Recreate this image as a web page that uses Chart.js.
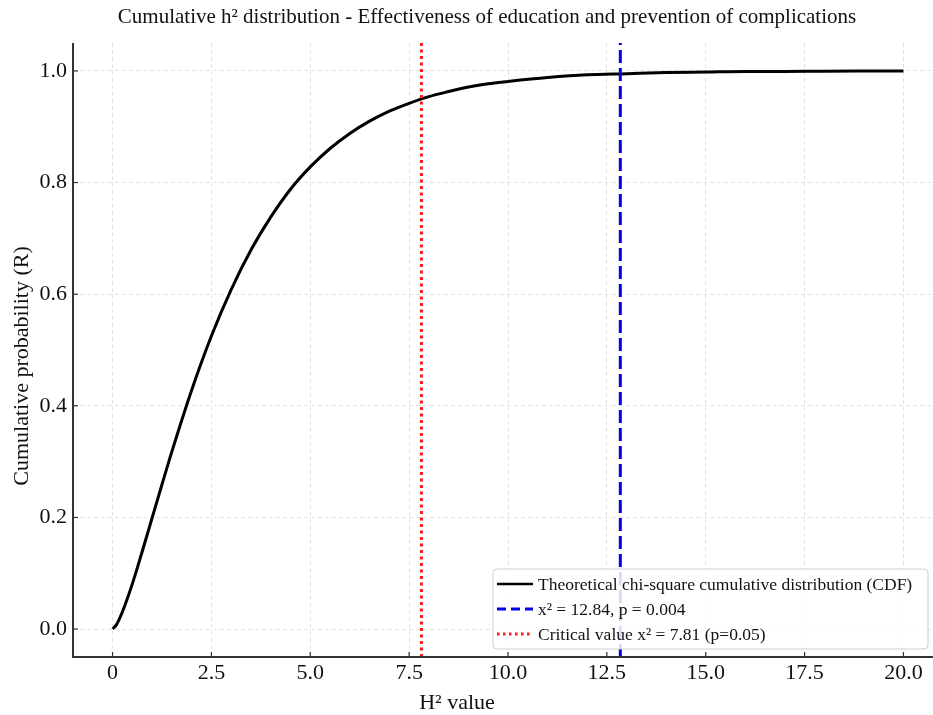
<!DOCTYPE html>
<html>
<head>
<meta charset="utf-8">
<script src="https://cdn.jsdelivr.net/npm/chart.js@4.4.0/dist/chart.umd.min.js"></script>
<style>
  html, body { margin: 0; padding: 0; background: #fff; overflow: hidden; }
  #wrap { width: 945px; height: 715px; }
</style>
</head>
<body>
<div id="wrap"><canvas id="cdfChart" width="945" height="715"></canvas></div>
<script>
// Values
const xValues = [0, 0.1, 0.25, 0.5, 0.75, 1, 1.25, 1.5, 2, 2.5, 3, 3.5, 4, 4.5, 5, 5.5, 6, 6.5, 7, 7.5, 8, 8.5, 9, 9.5, 10, 11, 12, 13, 14, 15, 16, 17, 18, 19, 20];
const cdfValues = [0, 0.008, 0.031, 0.081, 0.139, 0.199, 0.259, 0.318, 0.428, 0.525, 0.608, 0.679, 0.738, 0.788, 0.828, 0.861, 0.888, 0.910, 0.928, 0.942, 0.954, 0.963, 0.971, 0.977, 0.981, 0.988, 0.993, 0.995, 0.997, 0.998, 0.999, 0.999, 0.9995, 0.9997, 0.9998];
const observedChi = 12.84;
const criticalChi = 7.81;
const xTicks = [0, 2.5, 5, 7.5, 10, 12.5, 15, 17.5, 20];
const yTicks = [0, 0.2, 0.4, 0.6, 0.8, 1.0];
const legendLabels = [
    'Theoretical chi-square cumulative distribution (CDF)',
    'x\u00b2 = 12.84, p = 0.004',
    'Critical value x\u00b2 = 7.81 (p=0.05)'
];
const titleText = 'Cumulative h\u00b2 distribution - Effectiveness of education and prevention of complications';
const xTitle = 'H\u00b2 value';
const yTitle = 'Cumulative probability (R)';

const X_MIN = -1, X_MAX = 21, Y_MIN = -0.05, Y_MAX = 1.05;
const FONT = '"Liberation Serif", "Times New Roman", serif';

const curvePoints = xValues.map((x, i) => ({ x: x, y: cdfValues[i] }));

// Extra drawing: spines, inward ticks, titles, legend box
const decorPlugin = {
    id: 'decor',
    afterDatasetsDraw(chart) {
        const ctx = chart.ctx;
        const area = chart.chartArea;
        const xs = chart.scales.x, ys = chart.scales.y;
        ctx.save();

        // spines
        ctx.strokeStyle = '#333';
        ctx.lineWidth = 2;
        ctx.setLineDash([]);
        ctx.beginPath();
        ctx.moveTo(area.left, area.top);
        ctx.lineTo(area.left, area.bottom);
        ctx.lineTo(area.right, area.bottom);
        ctx.stroke();

        // inward tick marks
        ctx.lineWidth = 1.2;
        xTicks.forEach(v => {
            const px = xs.getPixelForValue(v);
            ctx.beginPath();
            ctx.moveTo(px, area.bottom);
            ctx.lineTo(px, area.bottom - 5);
            ctx.stroke();
        });
        yTicks.forEach(v => {
            const py = ys.getPixelForValue(v);
            ctx.beginPath();
            ctx.moveTo(area.left, py);
            ctx.lineTo(area.left + 5, py);
            ctx.stroke();
        });

        // titles
        ctx.fillStyle = '#111';
        ctx.textAlign = 'center';
        ctx.textBaseline = 'middle';
        ctx.font = '21px ' + FONT;
        ctx.fillText(titleText, 487, 17);
        ctx.font = '22px ' + FONT;
        ctx.fillText(xTitle, 457, 703);
        ctx.save();
        ctx.translate(22, 366);
        ctx.rotate(-Math.PI / 2);
        ctx.fillText(yTitle, 0, 0);
        ctx.restore();

        // legend
        const bx = 493, by = 569, bw = 435, bh = 80;
        ctx.fillStyle = 'rgba(255,255,255,0.85)';
        ctx.strokeStyle = '#cfcfcf';
        ctx.lineWidth = 1;
        ctx.beginPath();
        ctx.roundRect(bx, by, bw, bh, 4);
        ctx.fill();
        ctx.stroke();

        const styles = [
            { color: '#000', dash: [], width: 2.5 },
            { color: '#0000ee', dash: [9, 5], width: 3 },
            { color: '#ff1a1a', dash: [2.5, 3.5], width: 3 }
        ];
        const rows = [584, 609, 634];
        ctx.font = '17.5px ' + FONT;
        ctx.textAlign = 'left';
        legendLabels.forEach((label, i) => {
            const s = styles[i];
            ctx.strokeStyle = s.color;
            ctx.lineWidth = s.width;
            ctx.setLineDash(s.dash);
            ctx.beginPath();
            ctx.moveTo(497, rows[i]);
            ctx.lineTo(533, rows[i]);
            ctx.stroke();
            ctx.setLineDash([]);
            ctx.fillStyle = '#111';
            ctx.fillText(label, 538, rows[i] + 1);
        });
        ctx.restore();
    }
};

const keepTicks = list => function(scale) {
    scale.ticks = list.map(v => ({ value: v }));
};

new Chart(document.getElementById('cdfChart').getContext('2d'), {
    type: 'line',
    data: {
        datasets: [
            {
                label: legendLabels[0],
                data: curvePoints,
                borderColor: '#000',
                borderWidth: 3,
                pointRadius: 0,
                cubicInterpolationMode: 'monotone',
                fill: false,
                order: 2
            },
            {
                label: legendLabels[1],
                data: [{ x: observedChi, y: Y_MIN }, { x: observedChi, y: Y_MAX }],
                borderColor: '#0000ee',
                borderWidth: 3,
                borderDash: [13, 5],
                pointRadius: 0,
                order: 0
            },
            {
                label: legendLabels[2],
                data: [{ x: criticalChi, y: Y_MIN }, { x: criticalChi, y: Y_MAX }],
                borderColor: '#ff1a1a',
                borderWidth: 3,
                borderDash: [3, 3.5],
                pointRadius: 0,
                order: 1
            }
        ]
    },
    options: {
        responsive: false,
        animation: false,
        layout: { padding: { top: 43, right: 2, left: 0, bottom: 0 } },
        plugins: {
            legend: { display: false },
            title: { display: false },
            tooltip: { enabled: false }
        },
        scales: {
            x: {
                type: 'linear',
                min: X_MIN,
                max: X_MAX,
                afterBuildTicks: keepTicks(xTicks),
                afterFit: scale => { scale.height = 58; },
                grid: { color: '#e2e2e2', lineWidth: 1, drawTicks: false },
                border: { display: false, dash: [4, 3] },
                ticks: {
                    padding: 3,
                    color: '#111',
                    font: { family: FONT, size: 22 },
                    callback: v => v === 0 ? '0' : v.toFixed(1)
                }
            },
            y: {
                type: 'linear',
                min: Y_MIN,
                max: Y_MAX,
                afterBuildTicks: keepTicks(yTicks),
                afterFit: scale => { scale.width = 73; },
                grid: { color: '#e2e2e2', lineWidth: 1, drawTicks: false },
                border: { display: false, dash: [4, 3] },
                ticks: {
                    padding: 6,
                    color: '#111',
                    font: { family: FONT, size: 22 },
                    callback: v => v.toFixed(1)
                }
            }
        }
    },
    plugins: [decorPlugin]
});
</script>
</body>
</html>
